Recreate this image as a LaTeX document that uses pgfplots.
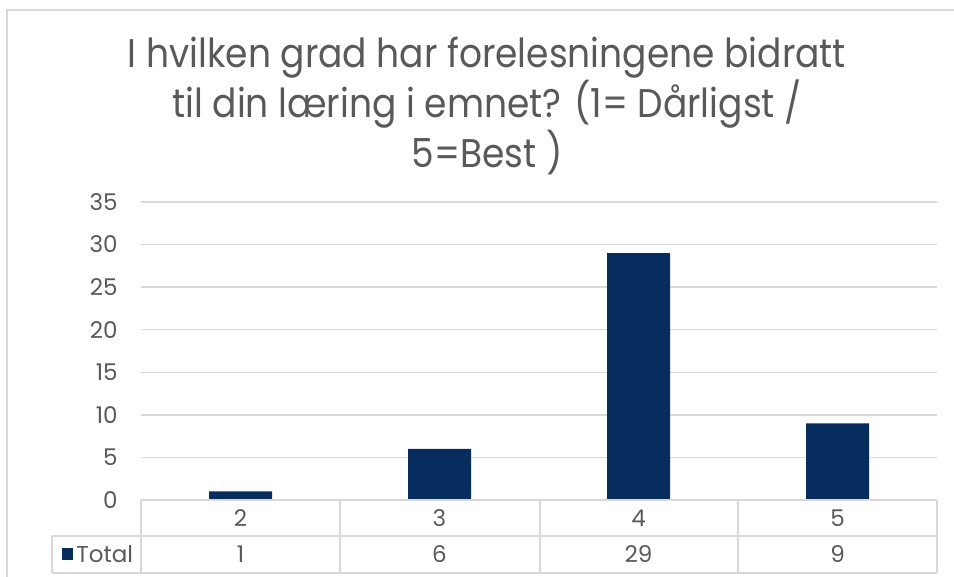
\documentclass[border=0pt]{standalone}
\usepackage{fontspec}
\setmainfont{Poppins}
\newfontfamily\titlefont[FakeStretch=0.9]{Poppins}
\usepackage{pgfplots}
\pgfplotsset{compat=1.18}
\definecolor{barblue}{RGB}{6,45,94}
\definecolor{txtgray}{RGB}{89,89,89}
\definecolor{linegray}{RGB}{217,217,217}

\begin{document}
\begin{tikzpicture}
\useasboundingbox (0,0) rectangle (477pt,288.5pt);
\begin{axis}[
  at={(70.5pt,38.5pt)}, anchor=south west,
  width=398pt, height=149pt, scale only axis,
  ybar, bar width=31.5pt,
  xmin=1.5, xmax=5.5, ymin=0, ymax=35,
  xtick=\empty,
  ytick={0,5,...,35},
  ymajorgrids, major grid style={linegray, line width=0.7pt},
  axis line style={draw=none},
  major tick length=0pt,
  yticklabel style={font=\fontsize{11.5}{12}\selectfont, text=txtgray, inner sep=0pt, xshift=-11.5pt},
  /pgf/number format/assume math mode=true,
  clip=false,
]
\addplot[fill=barblue, draw=none] coordinates {(2,1) (3,6) (4,29) (5,9)};
\end{axis}
\begin{scope}[x=0.5pt, y=0.5pt]
  % chart frame
  \draw[linegray, line width=0.75pt] (7,0) -- (7,567) -- (960,567);
  % data table (pixel units, y from the bottom)
  \draw[linegray, line width=0.75pt] (141,77) -- (937,77) (52,41) -- (937,41) (52,4) -- (937,4) (52,4) -- (52,41);
  \foreach \x in {141,340,540,738,937} \draw[linegray, line width=0.75pt] (\x,77) -- (\x,4);
  \foreach \x/\c/\v in {240.5/2/1, 439.5/3/6, 638.5/4/29, 837.5/5/9} {
    \node[text=txtgray, font=\fontsize{11.5}{12}\selectfont] at (\x,59) {\c};
    \node[text=txtgray, font=\fontsize{11.5}{12}\selectfont] at (\x,23) {\v};
  }
  \fill[barblue] (62,17) rectangle (73,29);
  \node[text=txtgray, font=\fontsize{11.5}{12}\selectfont, anchor=west, inner sep=0pt] at (76,23) {Total};
  % title
  \node[align=center, text=txtgray, font=\titlefont\fontsize{20}{23.5}\selectfont] at (487,471)
    {I hvilken grad har forelesningene bidratt\\til din læring i emnet? (1= Dårligst /\\5=Best )};
\end{scope}
\end{tikzpicture}
\end{document}
